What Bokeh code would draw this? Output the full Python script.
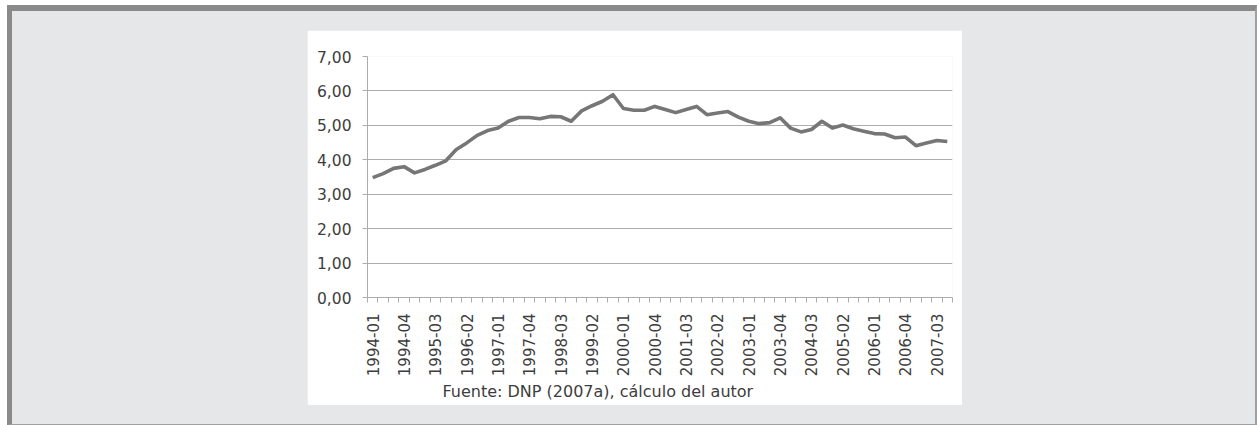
import numpy as np
from math import pi
from bokeh.plotting import figure
from bokeh.layouts import column
from bokeh.models import Range1d, FixedTicker, Title
from bokeh.embed import file_html
from bokeh.resources import INLINE

quarters = [
    "1994-01", "1994-02", "1994-03", "1994-04",
    "1995-01", "1995-02", "1995-03", "1995-04",
    "1996-01", "1996-02", "1996-03", "1996-04",
    "1997-01", "1997-02", "1997-03", "1997-04",
    "1998-01", "1998-02", "1998-03", "1998-04",
    "1999-01", "1999-02", "1999-03", "1999-04",
    "2000-01", "2000-02", "2000-03", "2000-04",
    "2001-01", "2001-02", "2001-03", "2001-04",
    "2002-01", "2002-02", "2002-03", "2002-04",
    "2003-01", "2003-02", "2003-03", "2003-04",
    "2004-01", "2004-02", "2004-03", "2004-04",
    "2005-01", "2005-02", "2005-03", "2005-04",
    "2006-01", "2006-02", "2006-03", "2006-04",
    "2007-01", "2007-02", "2007-03", "2007-04",
]
values = [
    3.48, 3.60, 3.75, 3.80, 3.62, 3.72, 3.84, 3.97,
    4.30, 4.49, 4.71, 4.85, 4.92, 5.12, 5.23, 5.23,
    5.19, 5.26, 5.25, 5.12, 5.42, 5.57, 5.70, 5.89,
    5.49, 5.44, 5.44, 5.55, 5.46, 5.37, 5.46, 5.55,
    5.31, 5.36, 5.40, 5.24, 5.12, 5.05, 5.08, 5.22,
    4.92, 4.81, 4.88, 5.12, 4.92, 5.01, 4.90, 4.83,
    4.76, 4.75, 4.64, 4.66, 4.41, 4.49, 4.56, 4.53,
]
y_ticks = [0, 1, 2, 3, 4, 5, 6, 7]
y_tick_labels = ["0,00", "1,00", "2,00", "3,00", "4,00", "5,00", "6,00", "7,00"]
x_label_step = 3
source_note = "Fuente: DNP (2007a), cálculo del autor"

FONT = "DejaVu Sans"
TEXT_COLOR = "#3d3d3d"
GRID_COLOR = "#acacac"
LINE_COLOR = "#767676"
PAGE_BG = "#e6e7e9"

n = len(quarters)
x = np.arange(n)

p = figure(
    width=655, height=375, output_backend="svg", toolbar_location=None,
    x_range=Range1d(-0.5, n - 0.5), y_range=Range1d(y_ticks[0], y_ticks[-1]),
    min_border_left=60, min_border_right=10, min_border_top=26, min_border_bottom=108,
    margin=(19, 0, 0, 295),
)
p.border_fill_color = "white"
p.background_fill_color = "white"
p.outline_line_color = None

# grid
p.xgrid.visible = False
p.ygrid.ticker = FixedTicker(ticks=y_ticks)
p.ygrid.grid_line_color = GRID_COLOR
p.ygrid.grid_line_width = 1

# y axis
ya = p.yaxis[0]
ya.ticker = FixedTicker(ticks=y_ticks)
ya.major_label_overrides = {t: l for t, l in zip(y_ticks, y_tick_labels)}
ya.axis_line_color = GRID_COLOR
ya.major_tick_line_color = GRID_COLOR
ya.major_tick_out = 5
ya.major_tick_in = 0
ya.minor_tick_line_color = None
ya.major_label_text_font = FONT
ya.major_label_text_font_size = "15.5px"
ya.major_label_text_color = TEXT_COLOR
ya.major_label_standoff = 11

# x axis
xa = p.xaxis[0]
label_idx = list(range(0, n, x_label_step))
xa.ticker = FixedTicker(ticks=label_idx, minor_ticks=[i - 0.5 for i in range(n + 1)])
xa.major_label_overrides = {i: quarters[i] for i in label_idx}
xa.major_label_orientation = pi / 2
xa.axis_line_color = GRID_COLOR
xa.major_tick_line_color = None
xa.major_tick_out = 5
xa.major_tick_in = 0
xa.minor_tick_line_color = GRID_COLOR
xa.minor_tick_out = 5
xa.minor_tick_in = 0
xa.major_label_text_font = FONT
xa.major_label_text_font_size = "15px"
xa.major_label_text_color = TEXT_COLOR
xa.major_label_standoff = 11

p.line(x, values, line_color=LINE_COLOR, line_width=3.6, line_join="round")

p.add_layout(Title(text=source_note, align="left", offset=75, text_font=FONT,
                   text_font_size="16px", text_font_style="normal",
                   text_color=TEXT_COLOR, standoff=0), "below")

root = column(
    p, width=1250, height=420, margin=(5, 0, 0, 7),
    styles={
        "background-color": PAGE_BG,
        "border-style": "solid",
        "border-color": "#8a8a8a #a0a0a0 #a0a0a0 #8a8a8a",
        "border-width": "6px 2px 1px 5px",
        "box-sizing": "border-box",
    },
)

open("out.html", "w").write(file_html(root, INLINE))
